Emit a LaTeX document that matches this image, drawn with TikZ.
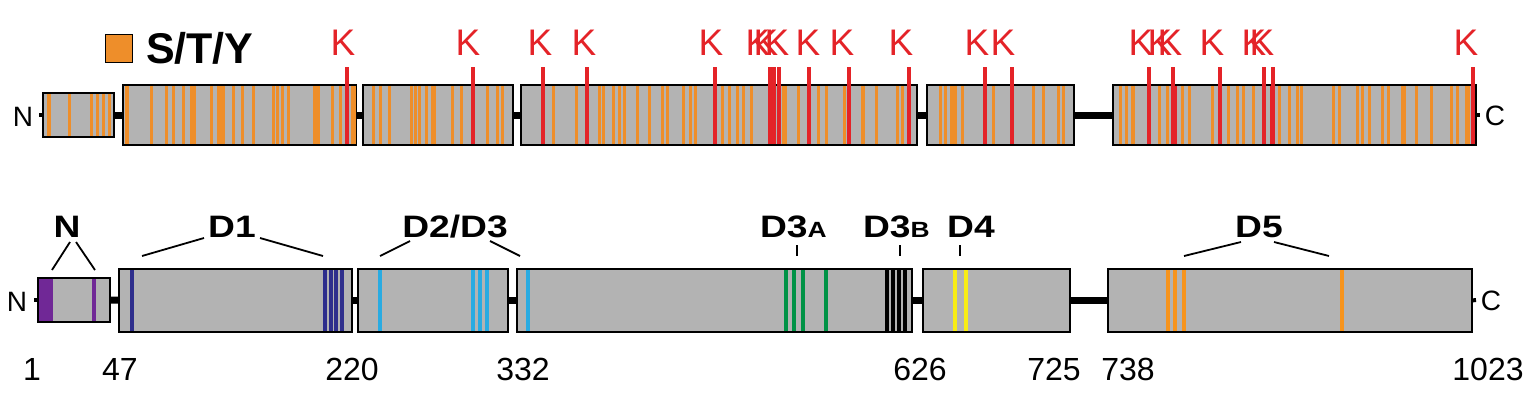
\documentclass[tikz,border=0pt]{standalone}
\usepackage{fontspec}
\setmainfont{Liberation Sans}
\newfontfamily\labfont[FakeStretch=1.2]{Liberation Sans}
\definecolor{dgray}{RGB}{179,179,179}
\definecolor{sorange}{RGB}{238,142,42}
\definecolor{kred}{RGB}{228,35,40}
\definecolor{npurple}{RGB}{112,40,150}
\definecolor{dindigo}{RGB}{46,46,140}
\definecolor{lblue}{RGB}{41,171,226}
\definecolor{dgreen}{RGB}{0,146,69}
\definecolor{dyellow}{RGB}{248,236,20}
\definecolor{dorange}{RGB}{247,148,29}

\begin{document}
\begin{tikzpicture}[x=1pt,y=-1pt]
\tikzstyle{every node}=[inner sep=0pt, outer sep=0pt]
\tikzstyle{dom}=[draw, rectangle, line width=2pt, fill=dgray, anchor=north west]
\tikzstyle{lnk}=[line width=7pt]
\tikzstyle{stub}=[line width=4pt]
\tikzstyle{sty}=[draw=sorange, line width=3pt]
\tikzstyle{ksite}=[draw=kred, line width=3.5pt]
\tikzstyle{band}=[line width=3.5pt]
\tikzstyle{ktxt}=[text=kred, font=\fontsize{37}{37}\selectfont, anchor=base]
\tikzstyle{termtxt}=[font=\fontsize{28}{28}\selectfont, anchor=base]
\tikzstyle{numtxt}=[font=\fontsize{32}{32}\selectfont, anchor=base]
\tikzstyle{domtxt}=[font=\labfont\bfseries\fontsize{31}{31}\selectfont, anchor=base]
\tikzstyle{brk}=[line width=1.8pt]
\useasboundingbox (0,0) rectangle (1536,402);

% legend
\node (leg) [draw, line width=1pt, fill=sorange, minimum width=27, minimum height=28, anchor=north west] at (105,34) {};
\node (legtxt) [font=\bfseries\fontsize{43}{43}\selectfont, anchor=base west] at (146,63) {S/T/Y};

% top row
\node (tN) [termtxt] at (23,126) {N};
\node (tC) [termtxt] at (1495,125) {C};
\node (t1) [dom, minimum width=71, minimum height=44] at (43,93) {};
\node (t2) [dom, minimum width=233, minimum height=60] at (123,85) {};
\node (t3) [dom, minimum width=150, minimum height=60] at (363,85) {};
\node (t4) [dom, minimum width=396, minimum height=60] at (521,85) {};
\node (t5) [dom, minimum width=147, minimum height=60] at (927,85) {};
\node (t6) [dom, minimum width=363, minimum height=60] at (1113,85) {};
\coordinate (tn) at (39,115);
\coordinate (tc) at (1480,115);

\foreach \x in {69,91,97,103,109}
  \draw[sty] (\x,94) -- (\x,136);
\draw[sty, line width=4.5pt] (49,94) -- (49,136);
\foreach \x in {151,166,173,183,211,233,242,253,273,277,282,288,332,340,
  373,380,389,411,415,419,426,452,461,487,497,502,
  553,576,599,603,613,619,624,637,649,662,667,683,690,695,722,729,737,743,751,
  785,798,818,826,844,876,897,902,
  940,945,962,993,1033,1043,1058,1063,
  1120,1126,1159,1167,1182,1189,1212,1228,1237,1243,1253,1279,1289,1297,1301,
  1333,1339,1357,1362,1369,1382,1388,1416,1431,1451,1457}
  \draw[sty] (\x,86) -- (\x,144);
\foreach \x/\w in {127/4.5,193/6,221/8,316/7,353/5,433/5,863/4.5,953/7,1133/4.5,1403/5,1467/5}
  \draw[sty, line width=\w pt] (\x,86) -- (\x,144);

% K sites
\foreach \x in {347,473,543,587,715,770,774,779,809,849,909,985,1012,1149,1173,1220,1264,1273,1473}
  \draw[ksite] (\x,67) -- (\x,144);
\draw[sty, line width=2pt] (783,86) -- (783,144);
\draw[ksite, line width=5pt] (1174,86) -- (1174,144);
\draw[ksite, line width=4.5pt] (1272,86) -- (1272,144);
\foreach \x in {343,468,540,584,711,758,766,777,808,842,901,977,1003,1141,1160,1170,1212,1254,1262,1466}
  \node (k\x) [ktxt] at (\x,55) {K};

\draw[stub] (tn) -- (t1.west);
\draw[lnk] (t1) -- (t2);
\draw[lnk] (t2) -- (t3);
\draw[lnk] (t3) -- (t4);
\draw[lnk] (t4) -- (t5);
\draw[lnk] (t5) -- (t6);
\draw[stub] (t6.east) -- (tc);

% bottom row
\node (bN) [termtxt] at (17,311) {N};
\node (bC) [termtxt] at (1491,310) {C};
\node (b1) [dom, minimum width=72, minimum height=44] at (38,278) {};
\node (b2) [dom, minimum width=233, minimum height=63] at (119,269) {};
\node (b3) [dom, minimum width=150, minimum height=63] at (358,269) {};
\node (b4) [dom, minimum width=395, minimum height=63] at (517,269) {};
\node (b5) [dom, minimum width=147, minimum height=63] at (923,269) {};
\node (b6) [dom, minimum width=364, minimum height=63] at (1108,269) {};
\coordinate (bn) at (34,300);
\coordinate (bc) at (1476,300);

\fill[npurple] (39,279) rectangle (53,321);
\draw[npurple, band] (94,279) -- (94,321);
\foreach \x in {132,325,331,336,342}
  \draw[dindigo, band] (\x,270) -- (\x,331);
\foreach \x in {380,473,480,487,528}
  \draw[lblue, band] (\x,270) -- (\x,331);
\foreach \x in {786,794,803,826}
  \draw[dgreen, band] (\x,270) -- (\x,331);
\foreach \x in {887,893,899,905}
  \draw[black, band] (\x,270) -- (\x,331);
\foreach \x in {955,966}
  \draw[dyellow, band] (\x,270) -- (\x,331);
\foreach \x in {1168,1175,1184,1342}
  \draw[dorange, band] (\x,270) -- (\x,331);

\draw[stub] (bn) -- (b1.west);
\draw[lnk] (b1) -- (b2);
\draw[lnk] (b2) -- (b3);
\draw[lnk] (b3) -- (b4);
\draw[lnk] (b4) -- (b5);
\draw[lnk] (b5) -- (b6);
\draw[stub] (b6.east) -- (bc);

% domain labels
\node (nlab) [domtxt] at (67,237) {N};
\node (d1) [domtxt] at (232,237) {D1};
\node (d23) [domtxt] at (455,237) {D2/D3};
\node (d3a) [domtxt, anchor=base west] at (760,237) {D3{\fontsize{22}{22}\selectfont A}};
\node (d3b) [domtxt, anchor=base west] at (863,237) {D3{\fontsize{22}{22}\selectfont B}};
\node (d4) [domtxt] at (971,237) {D4};
\node (d5) [domtxt] at (1259,237) {D5};

\coordinate (na) at (70,242); \coordinate (nb) at (52,270);
\coordinate (nc) at (76,242); \coordinate (nd) at (95,270);
\coordinate (d1a) at (204,238); \coordinate (d1b) at (142,256);
\coordinate (d1c) at (260,238); \coordinate (d1d) at (323,256);
\coordinate (d23a) at (410,241); \coordinate (d23b) at (380,256);
\coordinate (d23c) at (490,241); \coordinate (d23d) at (520,256);
\coordinate (d5a) at (1241,242); \coordinate (d5b) at (1184,256);
\coordinate (d5c) at (1274,242); \coordinate (d5d) at (1329,256);
\coordinate (d3at) at (797,245); \coordinate (d3ab) at (797,256);
\coordinate (d3bt) at (900,245); \coordinate (d3bb) at (900,256);
\coordinate (d4t) at (960,245); \coordinate (d4b) at (960,256);
\draw[brk] (na) -- (nb);
\draw[brk] (nc) -- (nd);
\draw[brk] (d1a) -- (d1b);
\draw[brk] (d1c) -- (d1d);
\draw[brk] (d23a) -- (d23b);
\draw[brk] (d23c) -- (d23d);
\draw[brk] (d5a) -- (d5b);
\draw[brk] (d5c) -- (d5d);
\draw[brk] (d3at) -- (d3ab);
\draw[brk] (d3bt) -- (d3bb);
\draw[brk] (d4t) -- (d4b);

% residue numbers
\node (p1) [numtxt] at (32,380) {1};
\node (p47) [numtxt] at (120,380) {47};
\node (p220) [numtxt] at (352,380) {220};
\node (p332) [numtxt] at (523,380) {332};
\node (p626) [numtxt] at (920,380) {626};
\node (p725) [numtxt] at (1054,380) {725};
\node (p738) [numtxt] at (1128,380) {738};
\node (p1023) [numtxt] at (1488,380) {1023};
\end{tikzpicture}
\end{document}
